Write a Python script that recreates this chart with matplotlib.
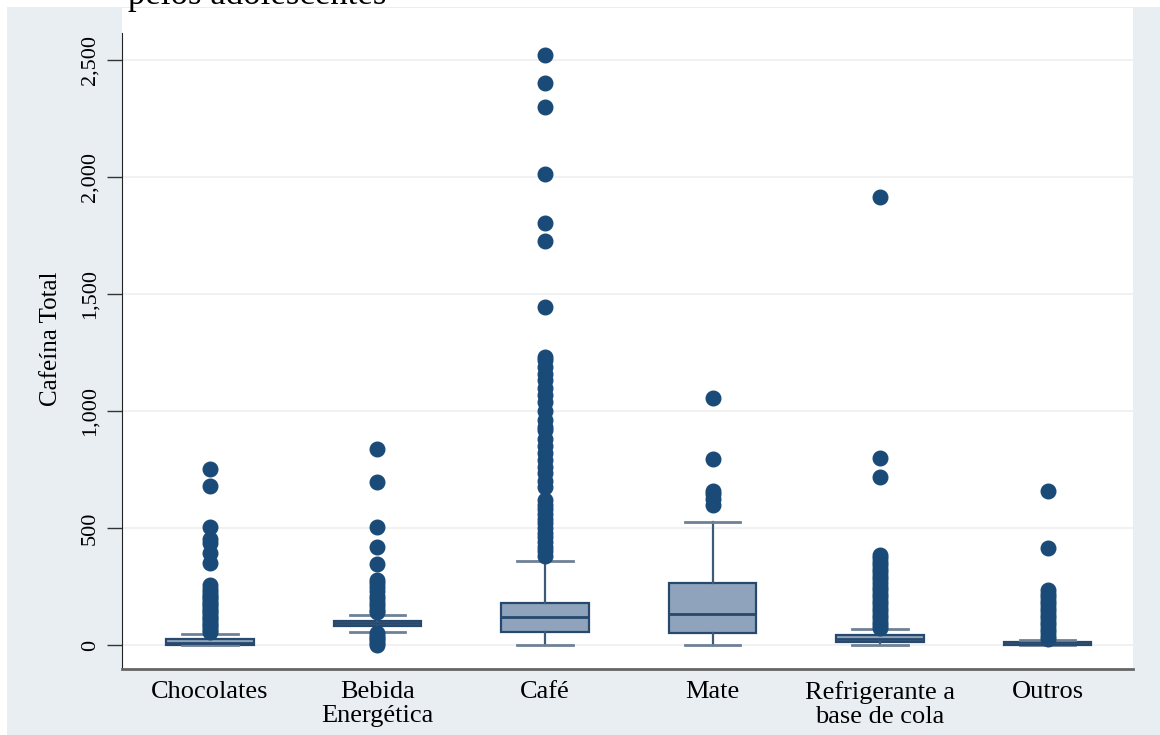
import matplotlib
matplotlib.use("Agg")
import matplotlib.pyplot as plt
import matplotlib.patches as mpatches

# categories and box statistics
categories = ["Chocolates", "Bebida\nEnergética", "Café", "Mate",
              "Refrigerante a\nbase de cola", "Outros"]
q1 = [0, 82, 57, 51, 13, 2]
medians = [8, 92, 118, 132, 26, 6]
q3 = [26, 103, 180, 264, 43, 13]
whisker_low = [0, 56, 0, 0, 0, 0]
whisker_high = [47, 128, 359, 526, 68, 20]

# outside values
out_chocolates = [55, 65, 75, 85, 95, 105, 115, 125, 135, 145, 155, 165, 175, 185,
                  195, 205, 215, 225, 240, 255, 350, 393, 436, 455, 504, 680, 752]
out_bebida = [0, 10, 20, 30, 40, 50, 140, 150, 165, 180, 195, 210, 230, 250, 265,
              278, 346, 419, 504, 697, 838]
out_cafe = [380, 400, 420, 440, 460, 480, 500, 520, 540, 560, 580, 600, 620, 675,
            700, 735, 761, 790, 820, 850, 880, 919, 932, 960, 1000, 1040, 1070,
            1098, 1133, 1160, 1190, 1218, 1230, 1445, 1727, 1804, 2013, 2300,
            2402, 2522]
out_mate = [600, 625, 645, 660, 793, 1055]
out_refri = [72, 85, 100, 115, 130, 145, 160, 175, 190, 205, 220, 235, 250, 265,
             280, 295, 310, 325, 340, 355, 370, 385, 718, 799, 1915]
out_outros = [25, 40, 55, 70, 85, 100, 115, 130, 145, 160, 175, 190, 205, 220, 233,
              415, 658]
outliers = [out_chocolates, out_bebida, out_cafe, out_mate, out_refri, out_outros]

yticks = [0, 500, 1000, 1500, 2000, 2500]
ytick_labels = ["0", "500", "1,000", "1,500", "2,000", "2,500"]

W, H = 1160, 735
plt.rcParams['font.family'] = ['Liberation Serif', 'DejaVu Serif']

fig = plt.figure(figsize=(W / 100, H / 100), dpi=100)
fig.patch.set_facecolor('#e8eef2')

# white page strips on top and left, plus the cut-off caption line of the page
fig.add_artist(mpatches.Rectangle((0, 1 - 7 / H), 1, 7 / H, transform=fig.transFigure,
                                  facecolor='white', edgecolor='none', zorder=0))
fig.add_artist(mpatches.Rectangle((0, 0), 7 / W, 1, transform=fig.transFigure,
                                  facecolor='white', edgecolor='none', zorder=0))
fig.text(128 / W, 1 - 4 / H, "pelos adolescentes", fontsize=25, ha='left',
         va='baseline', color='black')

left, right, top, bottom = 122, 1133, 8, 669
ax = fig.add_axes([left / W, 1 - bottom / H, (right - left) / W, (bottom - top) / H])
ax.set_facecolor('white')

per_px = 2500 / (645 - 60)
ax.set_ylim((645 - bottom) * per_px, (645 - top) * per_px)
ax.set_xlim(0.475, 6.51)

stats = []
for i, name in enumerate(categories):
    stats.append(dict(label=name, q1=q1[i], med=medians[i], q3=q3[i],
                      whislo=whisker_low[i], whishi=whisker_high[i],
                      fliers=outliers[i]))

navy = '#1a4b78'
ax.bxp(stats, positions=range(1, len(categories) + 1), widths=0.52,
       capwidths=0.33, patch_artist=True, showfliers=True,
       boxprops=dict(facecolor='#8fa4bc', edgecolor='#27496d', linewidth=1.6),
       medianprops=dict(color='#27496d', linewidth=2),
       whiskerprops=dict(color='#3d5a78', linewidth=1.6),
       capprops=dict(color='#6f8196', linewidth=2),
       flierprops=dict(marker='o', markerfacecolor=navy, markeredgecolor=navy,
                       markersize=10.5, linestyle='none'))

for v in yticks:
    ax.axhline(v, color='#efefef', linewidth=1.2, zorder=0)

ax.set_yticks(yticks)
ax.set_yticklabels(ytick_labels, rotation=90, va='center', fontsize=16)
ax.tick_params(axis='y', length=11, width=1, pad=5, color='#333333')
ax.set_xticks(range(1, len(categories) + 1))
ax.set_xticklabels(categories, fontsize=19, linespacing=1.1)
ax.tick_params(axis='x', length=0, pad=9)

ax.set_ylabel("Cafeína Total", fontsize=18)
ax.yaxis.set_label_coords((62 - left) / (right - left), 0.5)

for s in ['top', 'right']:
    ax.spines[s].set_visible(False)
ax.spines['left'].set_bounds((645 - bottom) * per_px, (645 - 33) * per_px)
ax.spines['left'].set_color('#222222')
ax.spines['bottom'].set_color('#666666')
ax.spines['bottom'].set_linewidth(2)

fig.savefig("out.png", dpi=100, facecolor=fig.get_facecolor())
